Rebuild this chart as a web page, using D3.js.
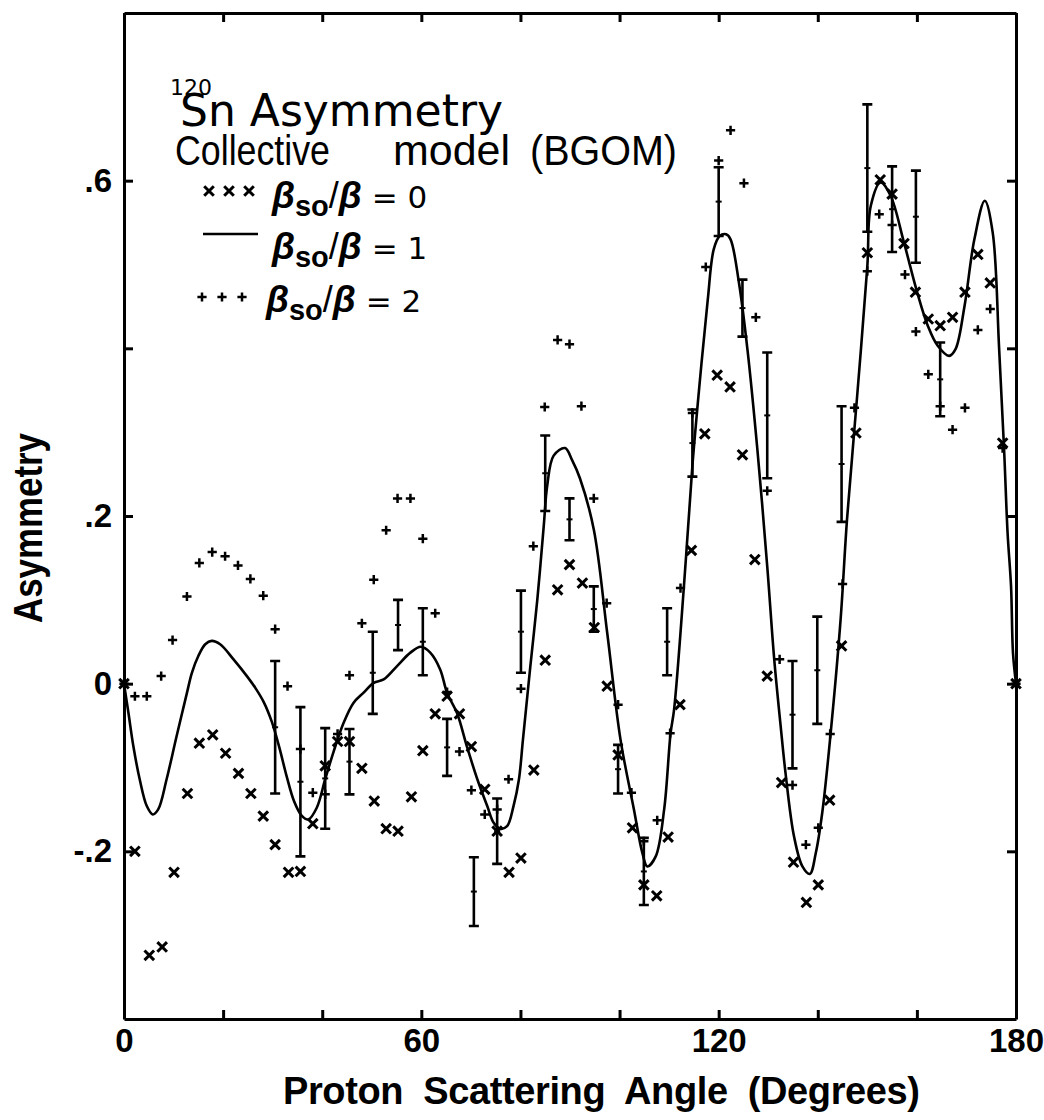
<!DOCTYPE html>
<html>
<head>
<meta charset="utf-8">
<script src="https://cdn.jsdelivr.net/npm/d3@7"></script>
<style>
  body { margin: 0; background: #fff; }
  svg { display: block; }
  text { font-family: "Liberation Sans", Arial, sans-serif; fill: #000; }
  .eje path, .eje line { stroke: #000; stroke-width: 3; }
  .eje text { font-family: "Liberation Sans", Arial, sans-serif; font-size: 33px; font-weight: bold; fill: #000; }
</style>
</head>
<body>
<div id="graf"></div>
<script>
// Asimetria 120Sn - modelo colectivo (BGOM)

// ejes
const xTicks = [0, 20, 40, 60, 80, 100, 120, 140, 160, 180]
const xTickText = ['0', '', '', '60', '', '', '120', '', '', '180']
const yTicks = [-0.2, 0, 0.2, 0.4, 0.6]
const yTickText = ['-.2', '0', '.2', '', '.6']

// xxx  beta_so/beta = 0
const angCero = [0, 2.2, 5.1, 7.7, 10.1, 12.8, 15.2, 17.9, 20.5, 23.1, 25.6, 28.1, 30.5, 33.2, 35.6, 38.1,
  40.6, 43.1, 45.5, 48.0, 50.5, 52.9, 55.3, 58.0, 60.3, 62.8, 65.2, 67.7, 70.1, 72.8, 75.3, 77.7,
  80.1, 82.7, 85.0, 87.5, 89.9, 92.5, 94.9, 97.5, 99.7, 102.6, 104.9, 107.5, 109.8, 112.2, 114.5, 117.2,
  119.7, 122.3, 124.8, 127.3, 129.8, 132.7, 135.1, 137.7, 140.1, 142.4, 144.8, 147.7, 150.0, 152.6,
  155.0, 157.4, 159.7, 162.3, 164.7, 167.2, 169.7, 172.3, 174.8, 177.3, 180]
const asimCero = [0, -0.200, -0.324, -0.314, -0.225, -0.131, -0.071, -0.061, -0.083, -0.107, -0.131, -0.158, -0.192, -0.225, -0.224, -0.167,
  -0.098, -0.069, -0.069, -0.101, -0.140, -0.173, -0.176, -0.135, -0.080, -0.036, -0.015, -0.036, -0.075, -0.126, -0.176, -0.225,
  -0.208, -0.103, 0.028, 0.112, 0.142, 0.120, 0.067, -0.003, -0.085, -0.172, -0.240, -0.253, -0.183, -0.025, 0.159, 0.298,
  0.368, 0.354, 0.273, 0.148, 0.009, -0.118, -0.213, -0.261, -0.240, -0.139, 0.045, 0.299, 0.514, 0.601,
  0.584, 0.525, 0.467, 0.435, 0.427, 0.437, 0.467, 0.512, 0.478, 0.287, 0]

// +++  beta_so/beta = 2
const angDos = [0, 2.2, 4.6, 7.5, 9.8, 12.7, 15.2, 17.8, 20.4, 23.0, 25.5, 28.1, 30.5, 33.0, 35.6, 38.1,
  40.6, 43.1, 45.5, 48.0, 50.4, 52.9, 55.2, 57.8, 60.3, 62.8, 65.2, 67.7, 70.1, 72.8, 75.3, 77.6,
  80.1, 82.6, 84.9, 87.5, 89.9, 92.3, 94.8, 97.4, 99.7, 102.4, 104.9, 107.6, 110.2, 112.3, 114.7, 117.4,
  120.0, 122.4, 125.1, 127.5, 129.8, 132.3, 134.9, 137.6, 140.1, 142.5, 145.0, 147.4, 150.0, 152.4,
  155.0, 157.6, 159.8, 162.3, 164.7, 167.2, 169.7, 172.3, 174.8, 177.3, 180]
const asimDos = [0, -0.015, -0.015, 0.009, 0.052, 0.104, 0.144, 0.157, 0.152, 0.141, 0.125, 0.105, 0.065, -0.003, -0.078, -0.130,
  -0.132, -0.060, 0.010, 0.072, 0.124, 0.183, 0.221, 0.221, 0.173, 0.084, -0.010, -0.081, -0.127, -0.156, -0.150, -0.114,
  -0.006, 0.164, 0.330, 0.410, 0.405, 0.331, 0.221, 0.096, -0.025, -0.130, -0.188, -0.163, -0.059, 0.114, 0.323, 0.497,
  0.624, 0.660, 0.597, 0.437, 0.230, 0.029, -0.121, -0.192, -0.172, -0.060, 0.119, 0.329, 0.492, 0.560,
  0.547, 0.488, 0.420, 0.369, 0.331, 0.303, 0.329, 0.422, 0.447, 0.281, 0]

// ---  beta_so/beta = 1 (curva)
const angUno = [0, 0.9, 1.9, 3.2, 4.6, 5.8, 6.9, 8.6, 10.6, 12.7, 13.7, 15.0, 16.4, 17.7, 19.4, 22.1, 24.8, 26.5,
  28.2, 29.8, 31.3, 32.8, 34.3, 35.8, 37.2, 38.9, 40.6, 42.3, 44.3, 46.3, 48.3, 50.4, 52.4, 55.1, 57.8, 59.9,
  61.8, 63.8, 65.2, 67.2, 69.2, 71.3, 73.3, 74.6, 75.9, 77.3, 78.6, 79.7, 80.5, 82.0, 83.4, 84.7, 85.4,
  86.7, 89.0, 90.4, 92.0, 94.8, 97.5, 100.2, 102.9, 104.6, 105.6, 107.3, 109.0, 110.3, 111.0, 113.0,
  114.7, 116.5, 117.8, 119.0, 120.2, 121.5, 122.4, 124.1, 125.8, 127.8, 129.8, 131.2, 132.5, 133.5,
  135.2, 136.9, 138.4, 139.6, 140.9, 142.6, 144.6, 145.9, 148.0, 150.0, 150.7, 152.7, 154.7, 157.4,
  160.1, 162.2, 164.2, 166.5, 167.8, 169.6, 171.6, 173.7, 175.3, 176.6, 177.6, 178.3, 179.0, 179.4, 180]
const asimUno = [0, -0.035, -0.075, -0.115, -0.146, -0.156, -0.150, -0.114, -0.063, -0.011, 0.013, 0.033, 0.047, 0.051, 0.047, 0.029, 0.009, -0.005,
  -0.022, -0.045, -0.075, -0.110, -0.140, -0.157, -0.162, -0.148, -0.114, -0.081, -0.047, -0.023, -0.011, 0.001, 0.005, 0.021, 0.037, 0.044,
  0.037, 0.017, -0.011, -0.035, -0.075, -0.114, -0.146, -0.166, -0.173, -0.170, -0.146, -0.114, -0.067, 0.021, 0.100, 0.188, 0.236,
  0.272, 0.281, 0.267, 0.245, 0.184, 0.061, -0.067, -0.150, -0.202, -0.218, -0.206, -0.150, -0.059, -0.031, 0.117,
  0.260, 0.380, 0.458, 0.518, 0.534, 0.536, 0.530, 0.478, 0.399, 0.280, 0.140, 0.030, -0.050, -0.107,
  -0.182, -0.218, -0.227, -0.202, -0.154, -0.059, 0.076, 0.196, 0.347, 0.498, 0.570, 0.598, 0.582, 0.526,
  0.466, 0.427, 0.403, 0.391, 0.399, 0.450, 0.530, 0.576, 0.538, 0.399, 0.279, 0.180, 0.116, 0.036, 0]

// datos experimentales con barras de error
const angExp = [30.5, 35.6, 40.6, 45.5, 50.2, 55.3, 60.3, 65.2, 70.6, 75.3, 80.1, 85.0, 89.9, 94.8,
  99.7, 104.9, 109.6, 114.7, 120.0, 124.8, 129.8, 134.9, 139.9, 144.8, 150.0, 155.0, 159.8, 164.7]
const asimExp = [-0.052, -0.117, -0.113, -0.093, 0.013, 0.070, 0.050, -0.076, -0.248, -0.176, 0.062, 0.251, 0.196, 0.089,
  -0.102, -0.224, 0.050, 0.287, 0.575, 0.448, 0.320, -0.037, 0.016, 0.262, 0.615, 0.566, 0.557, 0.363]
const errExp = [0.079, 0.089, 0.060, 0.039, 0.049, 0.030, 0.040, 0.034, 0.041, 0.039, 0.049, 0.045, 0.025, 0.027,
  0.029, 0.040, 0.040, 0.040, 0.041, 0.034, 0.075, 0.064, 0.064, 0.069, 0.076, 0.051, 0.055, 0.044]

const ancho_total = 1044
const alto_total = 1120

const svg = d3.select('#graf').append('svg')
  .attr('width', ancho_total)
  .attr('height', alto_total)

// Escaladores
const x = d3.scaleLinear().domain([0, 180]).range([124, 1016])
const y = d3.scaleLinear().domain([-0.4, 0.8]).range([1019, 13])

// Ejes (ticks hacia adentro)
svg.append('g').attr('class', 'eje')
  .attr('transform', `translate(0, ${y(-0.4)})`)
  .call(d3.axisBottom(x).tickValues(xTicks).tickSize(-9).tickSizeOuter(0).tickPadding(10)
    .tickFormat((d, i) => xTickText[i]))
svg.append('g').attr('class', 'eje')
  .attr('transform', `translate(0, ${y(0.8)})`)
  .call(d3.axisTop(x).tickValues(xTicks).tickSize(-9).tickSizeOuter(0).tickFormat(''))
svg.append('g').attr('class', 'eje')
  .attr('transform', `translate(${x(0)}, 0)`)
  .call(d3.axisLeft(y).tickValues(yTicks).tickSize(-9).tickSizeOuter(0).tickPadding(12)
    .tickFormat((d, i) => yTickText[i]))
svg.append('g').attr('class', 'eje')
  .attr('transform', `translate(${x(180)}, 0)`)
  .call(d3.axisRight(y).tickValues(yTicks).tickSize(-9).tickSizeOuter(0).tickFormat(''))

// Generadores de marcas
const cruzX = (cx, cy, r) => `M${cx - r},${cy - r}L${cx + r},${cy + r}M${cx - r},${cy + r}L${cx + r},${cy - r}`
const cruzMas = (cx, cy, r) => `M${cx - r},${cy}L${cx + r},${cy}M${cx},${cy - r}L${cx},${cy + r}`

// Curva beta_so/beta = 1
const lineaGen = d3.line()
  .x(d => x(d[0]))
  .y(d => y(d[1]))
  .curve(d3.curveCatmullRom.alpha(0.5))
svg.append('path')
  .datum(d3.zip(angUno, asimUno))
  .attr('fill', 'none')
  .attr('stroke', '#000')
  .attr('stroke-width', 2.6)
  .attr('stroke-linejoin', 'round')
  .attr('d', lineaGen)

// Barras de error
const exp = d3.zip(angExp, asimExp, errExp)
const barras = svg.append('g').attr('stroke', '#000').attr('fill', 'none')
barras.selectAll('path.barra').data(exp).join('path')
  .attr('class', 'barra')
  .attr('stroke-width', 2.6)
  .attr('d', d => {
    const cx = x(d[0]), y0 = y(d[1] + d[2]), y1 = y(d[1] - d[2])
    return `M${cx},${y0}L${cx},${y1}M${cx - 5},${y0}L${cx + 5},${y0}M${cx - 5},${y1}L${cx + 5},${y1}`
  })
barras.selectAll('path.centro').data(exp).join('path')
  .attr('class', 'centro')
  .attr('stroke-width', 2)
  .attr('d', d => `M${x(d[0]) - 3},${y(d[1])}L${x(d[0]) + 3},${y(d[1])}`)

// Puntos xxx
svg.append('g').selectAll('path').data(d3.zip(angCero, asimCero)).join('path')
  .attr('fill', 'none').attr('stroke', '#000').attr('stroke-width', 3)
  .attr('d', d => cruzX(x(d[0]), y(d[1]), 4.8))

// Puntos +++
svg.append('g').selectAll('path').data(d3.zip(angDos, asimDos)).join('path')
  .attr('fill', 'none').attr('stroke', '#000').attr('stroke-width', 2.5)
  .attr('d', d => cruzMas(x(d[0]), y(d[1]), 4.6))

// Titulo (un solo bloque de texto)
const titulo = svg.append('text').attr('x', 170).attr('y', 126)
  .style('font-family', '"DejaVu Sans", sans-serif')
titulo.append('tspan').style('font-size', '22px').attr('dy', -31).text('120')
titulo.append('tspan').style('font-size', '44px').attr('dx', -32).attr('dy', 31).text('Sn Asymmetry')
const palabras = [['Collective', 175, 155], ['model', 393, 117], ['(BGOM)', 530, 147]]
palabras.forEach(p => {
  titulo.append('tspan').attr('x', p[1]).attr('y', 165)
    .style('font-family', '"Liberation Sans", Arial, sans-serif')
    .style('font-size', '42px')
    .attr('textLength', p[2]).attr('lengthAdjust', 'spacingAndGlyphs')
    .text(p[0])
})

// Leyenda
const leyenda = [
  { tipo: 'x', razon: '0', base: 208, ySim: 191, x0: 202, xt: 272 },
  { tipo: 'linea', razon: '1', base: 259, ySim: 234, x0: 203, xt: 272 },
  { tipo: '+', razon: '2', base: 312, ySim: 297, x0: 195, xt: 266 }
]
leyenda.forEach(l => {
  if (l.tipo === 'linea') {
    svg.append('line').attr('x1', l.x0).attr('x2', l.x0 + 55)
      .attr('y1', l.ySim).attr('y2', l.ySim)
      .attr('stroke', '#000').attr('stroke-width', 2.6)
  } else {
    d3.range(3).forEach(i => {
      const cx = l.x0 + 7 + i * 20
      svg.append('path')
        .attr('fill', 'none').attr('stroke', '#000')
        .attr('stroke-width', l.tipo === 'x' ? 3 : 2.5)
        .attr('d', l.tipo === 'x' ? cruzX(cx, l.ySim, 4.8) : cruzMas(cx, l.ySim, 4.6))
    })
  }
  const t = svg.append('text').attr('x', l.xt).attr('y', l.base)
  t.append('tspan').style('font-size', '37px').style('font-style', 'italic').style('font-weight', 'bold').text('β')
  t.append('tspan').style('font-size', '29px').style('font-weight', 'bold').attr('dy', 8).text('so')
  t.append('tspan').style('font-size', '36px').attr('dy', -8).text('/')
  t.append('tspan').style('font-size', '37px').style('font-style', 'italic').style('font-weight', 'bold').text('β')
  t.append('tspan').style('font-size', '31px').style('font-family', '"DejaVu Sans", sans-serif').text(' = ' + l.razon)
})

// Titulos de ejes
svg.append('text')
  .attr('transform', 'translate(42, 528) rotate(-90)')
  .attr('text-anchor', 'middle')
  .style('font-size', '40px').style('font-weight', 'bold')
  .attr('textLength', 190).attr('lengthAdjust', 'spacingAndGlyphs')
  .text('Asymmetry')
svg.append('text')
  .attr('x', 283).attr('y', 1104)
  .style('font-size', '38px').style('font-weight', 'bold').style('word-spacing', '10px')
  .attr('textLength', 637).attr('lengthAdjust', 'spacing')
  .text('Proton Scattering Angle (Degrees)')
</script>
</body>
</html>
